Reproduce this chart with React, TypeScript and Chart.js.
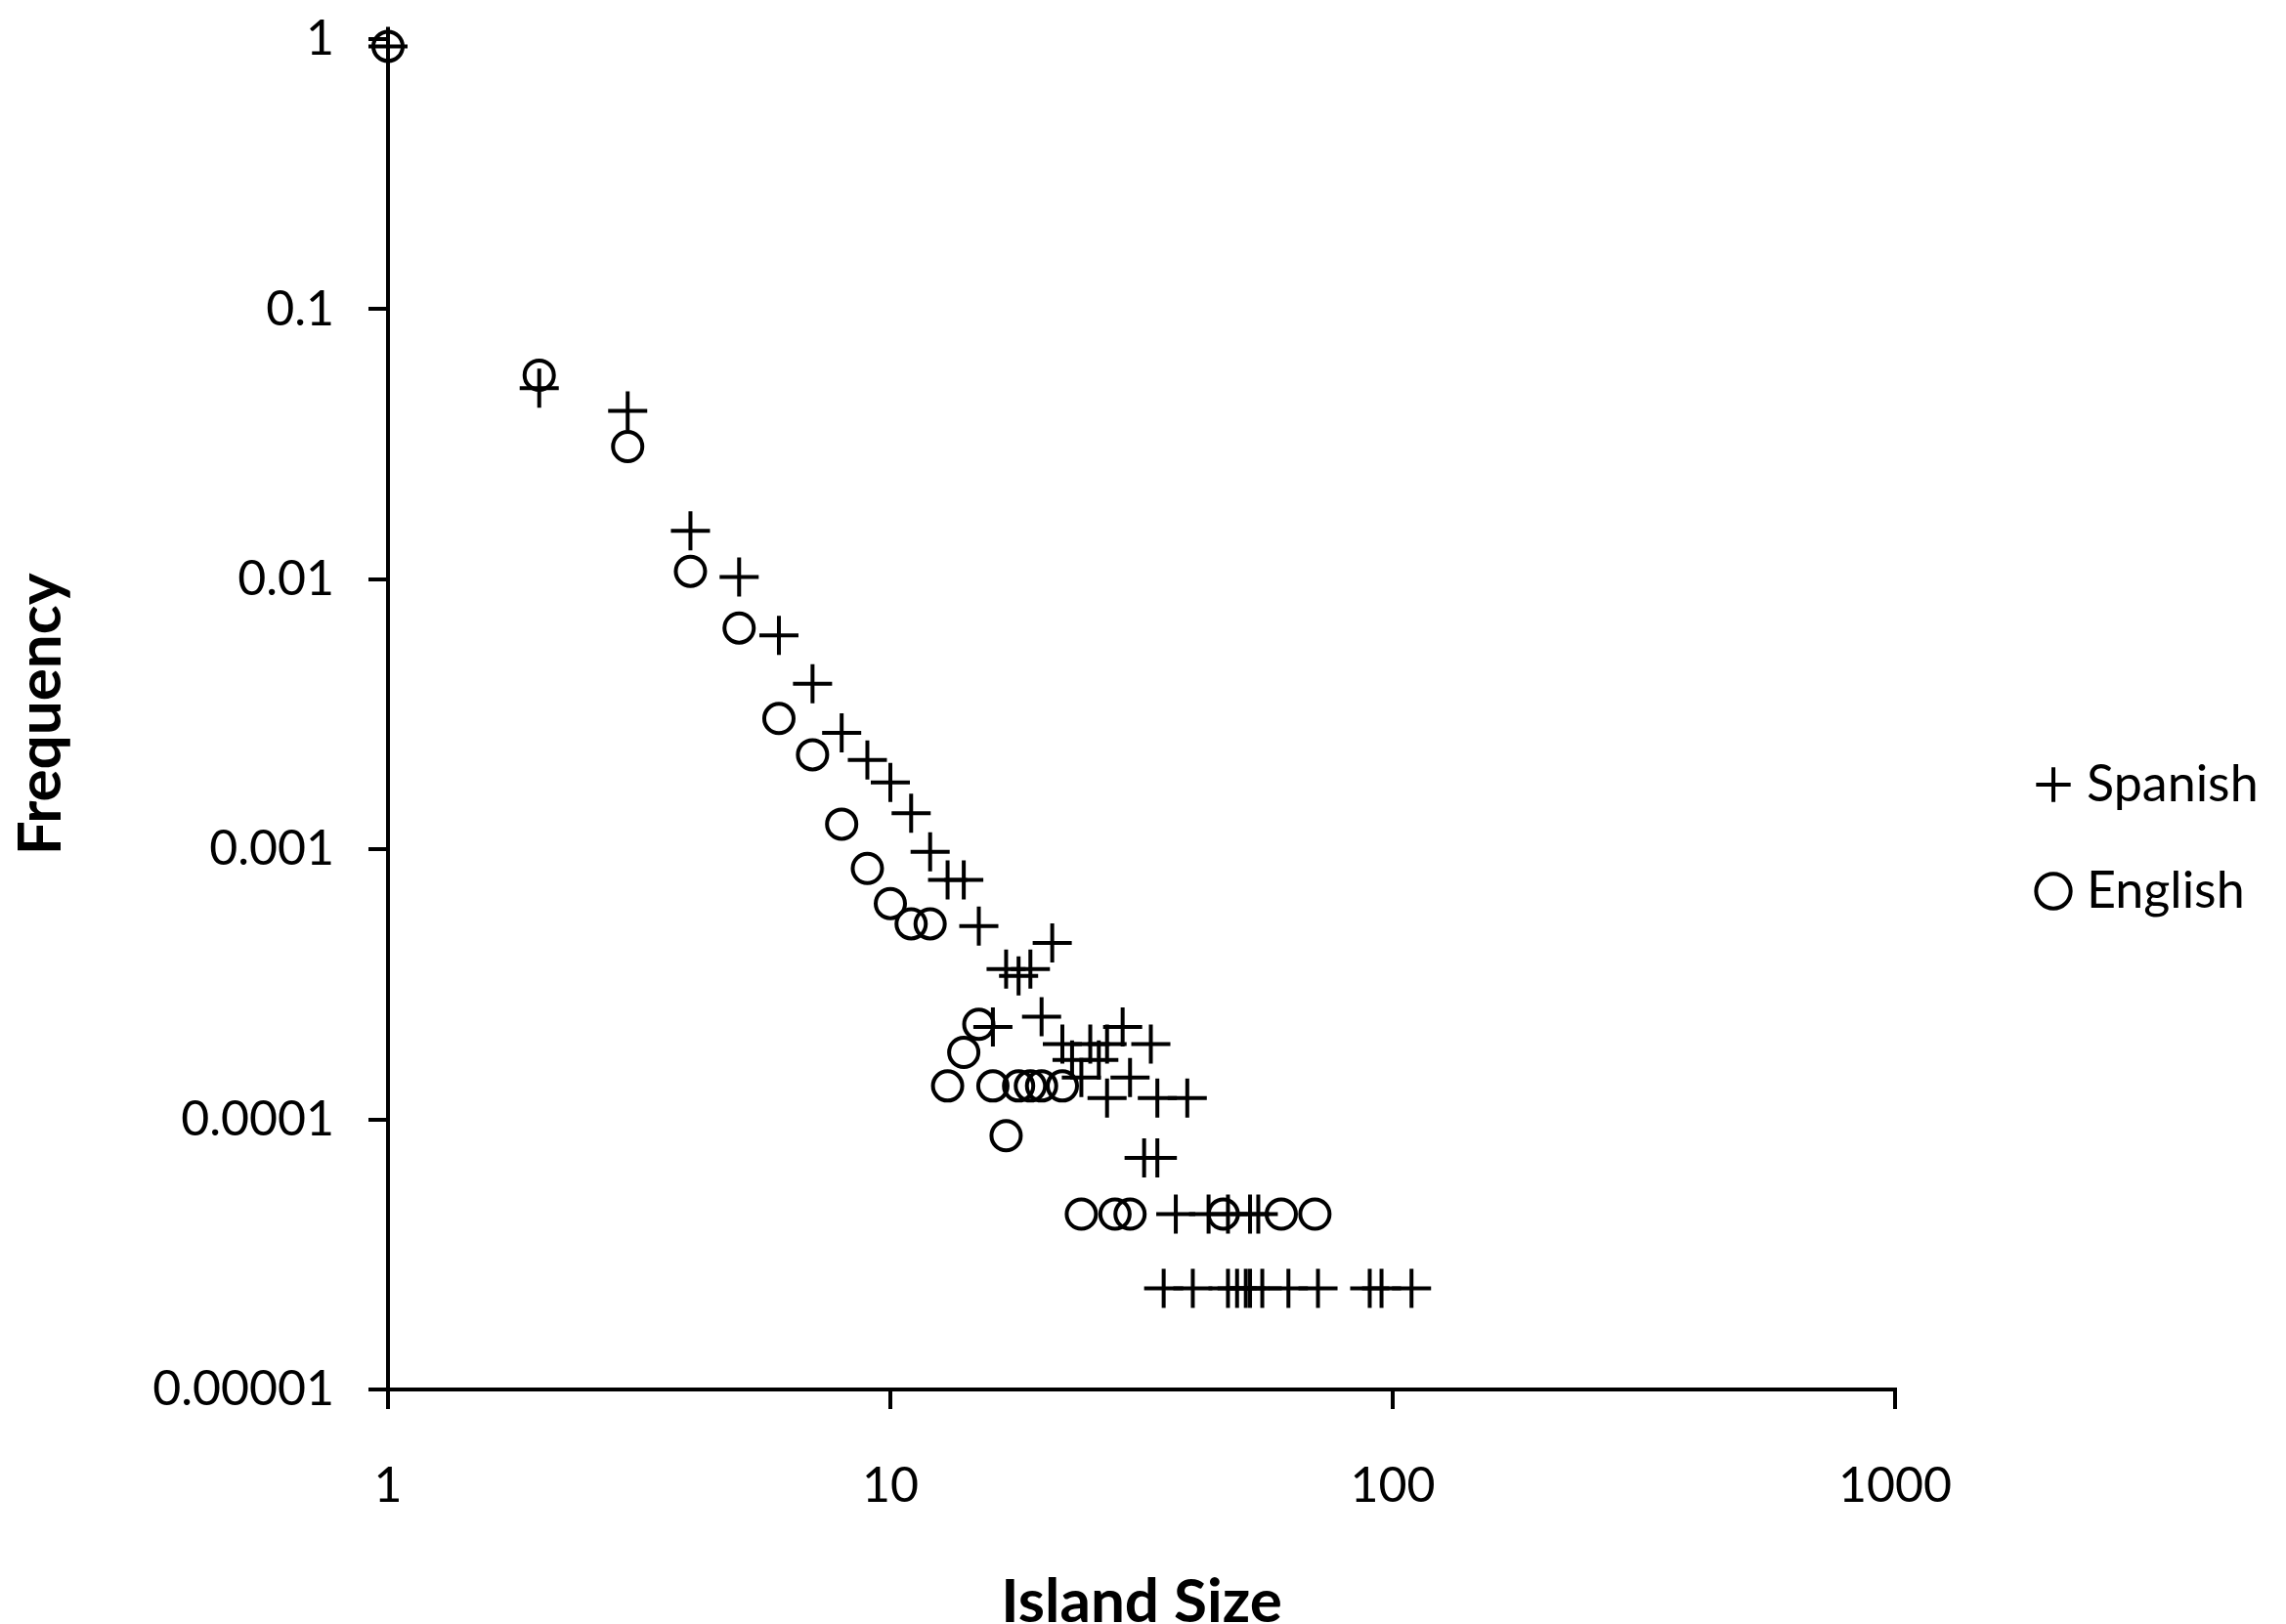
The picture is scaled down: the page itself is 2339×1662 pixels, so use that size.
import { useEffect, useRef } from "react";
import { Chart, Plugin, registerables } from "chart.js";

Chart.register(...registerables);

// island size / frequency
const spanishSize = [
	1, 2, 3, 4, 5, 6, 7, 8, 9, 10, 11, 12, 13, 14, 15, 16, 17, 18, 19, 20, 21, 22,
	23, 24, 25, 26, 27, 27, 29, 30, 32, 33, 34, 34, 35, 37, 39, 40, 43, 47, 47, 49,
	51, 52, 52, 54, 55, 62, 71, 90, 95, 109,
];
const spanishFreq = [
	0.94, 0.051, 0.042, 0.0151, 0.0102, 0.0062, 0.0041, 0.0027, 0.00214, 0.00177,
	0.00136, 0.00098, 0.00077, 0.00077, 0.00052, 0.00022, 0.00036, 0.00034, 0.00036,
	0.00024, 0.00045, 0.00019, 0.000166, 0.000143, 0.00019, 0.000166, 0.00019,
	0.00012, 0.00022, 0.000143, 0.000072, 0.00019, 0.00012, 0.000072, 0.0000237,
	0.0000446, 0.00012, 0.0000237, 0.0000446, 0.0000446, 0.0000237, 0.0000237,
	0.0000237, 0.0000237, 0.0000446, 0.0000446, 0.0000237, 0.0000237, 0.0000237,
	0.0000237, 0.0000237, 0.0000237,
];
const englishSize = [
	1, 2, 3, 4, 5, 6, 7, 8, 9, 10, 11, 12, 13, 14, 15, 16, 17, 18, 19, 20, 22, 24,
	28, 30, 46, 60, 70,
];
const englishFreq = [
	0.94, 0.057, 0.031, 0.0107, 0.0066, 0.00305, 0.00224, 0.00124, 0.00085, 0.00063,
	0.00053, 0.00053, 0.000133, 0.000177, 0.000225, 0.000133, 0.000087, 0.000133,
	0.000133, 0.000133, 0.000133, 0.0000446, 0.0000446, 0.0000446, 0.0000446,
	0.0000446, 0.0000446,
];

const xTickValues = [1, 10, 100, 1000];
const xTickLabels = ["1", "10", "100", "1000"];
const yTickValues = [1, 0.1, 0.01, 0.001, 0.0001, 0.00001];
const yTickLabels = ["1", "0.1", "0.01", "0.001", "0.0001", "0.00001"];

const WIDTH = 2339;
const HEIGHT = 1662;
const PLOT_TOP = 40;
const PLOT_LEFT = 397;
const PLOT_BOTTOM = 1422;
const LEGEND_X = 2093;
const LEGEND_Y = 803;

// the legend sits well to the right of the plot, away from its box
const legendPlacer: Plugin = {
	id: "legendPlacer",
	afterLayout(chart) {
		const legend: any = chart.legend;
		if (!legend) return;
		const pad = legend.options.labels.padding;
		legend.left = LEGEND_X - pad;
		legend.right = WIDTH;
		legend.width = legend.right - legend.left;
		const colH = legend.columnSizes && legend.columnSizes[0] ? legend.columnSizes[0].height : 0;
		const fontSize = legend.options.labels.font.size;
		const first = (legend.top + pad + legend.bottom - colH) / 2 + fontSize / 2;
		const dy = LEGEND_Y - first;
		legend.top += dy;
		legend.bottom += dy;
	},
};

export default function App() {
	const chartRef = useRef<HTMLCanvasElement>(null);

	useEffect(() => {
		if (chartRef.current == null) {
			return;
		}
		Chart.defaults.font.family = "Lato";
		Chart.defaults.color = "#000";

		const tickFont = { size: 50 };
		const titleFont = { size: 62, weight: "bold" as const };

		const chart = new Chart(chartRef.current, {
			type: "scatter",
			data: {
				datasets: [
					{
						label: "Spanish",
						data: spanishSize.map((x, i) => ({ x, y: spanishFreq[i] })),
						pointStyle: "cross",
						pointRadius: 20,
						pointHoverRadius: 20,
						pointBorderWidth: 4,
						borderColor: "#000",
						backgroundColor: "rgba(0,0,0,0)",
						showLine: false,
						clip: false,
					},
					{
						label: "English",
						data: englishSize.map((x, i) => ({ x, y: englishFreq[i] })),
						pointStyle: "circle",
						pointRadius: 15,
						pointHoverRadius: 15,
						pointBorderWidth: 4,
						borderColor: "#000",
						backgroundColor: "rgba(0,0,0,0)",
						showLine: false,
						clip: false,
					},
				],
			},
			options: {
				animation: false,
				responsive: true,
				maintainAspectRatio: false,
				events: [],
				layout: { padding: { top: PLOT_TOP, right: 150, bottom: 0, left: 0 } },
				plugins: {
					legend: {
						position: "right",
						maxWidth: 250,
						labels: {
							usePointStyle: true,
							boxWidth: 16,
							boxHeight: 25,
							padding: 57,
							color: "#000",
							font: { size: 52 },
						},
					},
					tooltip: { enabled: false },
				},
				scales: {
					x: {
						type: "logarithmic",
						min: 1,
						max: 1000,
						afterBuildTicks: (s) => {
							s.ticks = xTickValues.map((v) => ({ value: v }));
						},
						afterFit: (s) => {
							s.height = HEIGHT - PLOT_BOTTOM;
							s.paddingLeft = 0;
							s.paddingRight = 0;
						},
						ticks: {
							callback: (_v, i) => xTickLabels[i],
							autoSkip: false,
							maxRotation: 0,
							padding: 49,
							color: "#000",
							font: tickFont,
						},
						grid: {
							drawOnChartArea: false,
							drawTicks: true,
							tickLength: 20,
							color: "#000",
							lineWidth: 4,
						},
						border: { color: "#000", width: 4 },
						title: {
							display: true,
							text: "Island Size",
							color: "#000",
							font: titleFont,
							padding: { top: 0, bottom: -15 },
						},
					},
					y: {
						type: "logarithmic",
						min: 0.00001,
						max: 1,
						afterBuildTicks: (s) => {
							s.ticks = yTickValues.map((v) => ({ value: v }));
						},
						afterFit: (s) => {
							s.width = PLOT_LEFT;
							s.paddingTop = 0;
							s.paddingBottom = 0;
						},
						ticks: {
							callback: (_v, i) => yTickLabels[i],
							autoSkip: false,
							padding: 35,
							color: "#000",
							font: tickFont,
						},
						grid: {
							drawOnChartArea: false,
							drawTicks: true,
							tickLength: 20,
							color: "#000",
							lineWidth: 4,
						},
						border: { color: "#000", width: 4 },
						title: {
							display: true,
							text: "Frequency",
							color: "#000",
							font: titleFont,
							padding: { top: 5, bottom: 0 },
						},
					},
				},
			},
			plugins: [legendPlacer],
		});

		return () => {
			chart.destroy();
		};
	}, []);

	return (
		<div style={{ position: "absolute", left: 0, top: 0, width: WIDTH, height: HEIGHT, background: "#fff" }}>
			<canvas ref={chartRef} />
		</div>
	);
}
